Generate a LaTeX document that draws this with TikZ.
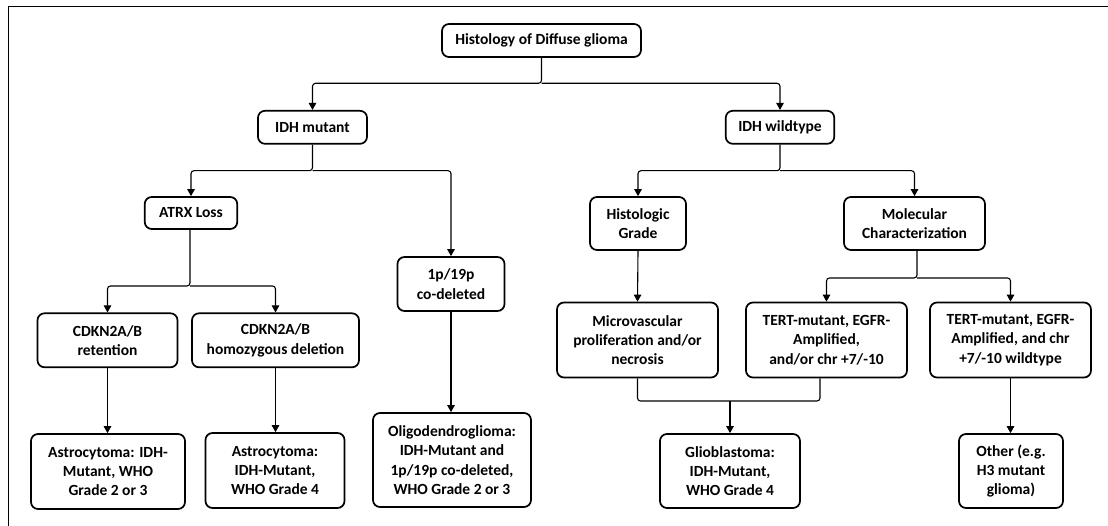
\documentclass[tikz,border=0pt]{standalone}
\usepackage{fontspec}
\setmainfont{Carlito}
\usetikzlibrary{arrows.meta}
\begin{document}
\begin{tikzpicture}[x=1pt,y=-1pt,
  box/.style={draw=black, line width=1.7pt, rounded corners=7pt, align=center, inner sep=0pt,
    font=\fontsize{15.5}{19.3}\selectfont\bfseries, fill=white},
  conn/.style={draw=black, line width=1.1pt, rounded corners=3pt},
  arr/.style={conn, -{Triangle[length=7pt,width=7.5pt]}}]
\useasboundingbox (0,0) rectangle (1108,526);
% frame (top and left edges only)
\draw[line width=1.6pt] (8.5,527) -- (8.5,6.5) -- (1109,6.5);

\node[box, minimum width=199pt, minimum height=33pt] (hist) at (541.5,40.5) {Histology of Diffuse glioma};
\node[box, minimum width=109pt, minimum height=33pt] (idhm) at (312.5,127.3) {IDH mutant};
\node[box, minimum width=108.5pt, minimum height=33pt] (idhw) at (780,127.3) {IDH wildtype};
\node[box, minimum width=92.5pt, minimum height=32pt] (atrx) at (191,213) {ATRX Loss};
\node[box, minimum width=96pt, minimum height=53pt] (histg) at (638,223.5) {Histologic\\Grade};
\node[box, minimum width=141pt, minimum height=53pt] (molc) at (914.5,223.5) {Molecular\\Characterization};
\node[box, minimum width=140pt, minimum height=54pt] (cdknr) at (107.5,340.3) {CDKN2A/B\\retention};
\node[box, minimum width=167pt, minimum height=54pt] (cdknh) at (275.5,340.3) {CDKN2A/B\\homozygous deletion};
\node[box, minimum width=107pt, minimum height=54pt] (codel) at (451,284) {1p/19p\\co-deleted};
\node[box, minimum width=161pt, minimum height=75pt] (micro) at (637.5,340) {Microvascular\\proliferation and/or\\necrosis};
\node[box, minimum width=161pt, minimum height=75pt] (tert1) at (826.5,340) {TERT-mutant, EGFR-\\Amplified,\\and/or chr +7/-10};
\node[box, minimum width=161pt, minimum height=75pt] (tert2) at (1010.5,340) {TERT-mutant, EGFR-\\Amplified, and chr\\+7/-10 wildtype};
\node[box, minimum width=154pt, minimum height=75pt] (astro1) at (108,471.5) {Astrocytoma: IDH-\\Mutant, WHO\\Grade 2 or 3};
\node[box, minimum width=139pt, minimum height=75pt] (astro2) at (275,470.5) {Astrocytoma:\\IDH-Mutant,\\WHO Grade 4};
\node[box, minimum width=158pt, minimum height=94pt] (oligo) at (452,460) {Oligodendroglioma:\\IDH-Mutant and\\1p/19p co-deleted,\\WHO Grade 2 or 3};
\node[box, minimum width=140pt, minimum height=74pt] (glio) at (730,471) {Glioblastoma:\\IDH-Mutant,\\WHO Grade 4};
\node[box, minimum width=104pt, minimum height=74pt] (other) at (1011,471) {Other (e.g.\\H3 mutant\\glioma)};

% connectors
\coordinate (j0) at (541.5,83.3);
\draw[arr] (hist.south) -- (j0) -| (idhm.north);
\draw[arr] (j0) -| (idhw.north);

\coordinate (j1) at (312.5,170.7);
\draw[arr] (idhm.south) -- (j1) -| (atrx.north);
\draw[arr] (j1) -| (codel.north);

\coordinate (j2) at (780,170.7);
\draw[arr] (idhw.south) -- (j2) -| (histg.north);
\draw[arr] (j2) -| (molc.north);

\coordinate (j3) at (190,286);
\draw[arr] (atrx.south -| j3) -- (j3) -| (cdknr.north);
\draw[arr] (j3) -| (cdknh.north);

\coordinate (j4) at (917,278);
\draw[arr] (molc.south -| j4) -- (j4) -| (tert1.north);
\draw[arr] (j4) -| (tert2.north);

\draw[arr] (histg.south) -- (micro.north);
\draw[arr] (cdknr.south) -- (cdknr.south |- astro1.north);
\draw[arr] (cdknh.south) -- (cdknh.south |- astro2.north);
\draw[arr] (codel.south) -- (codel.south |- oligo.north);
\draw[arr] (tert2.south) -- (tert2.south |- other.north);

\coordinate (j5) at (730,401);
\draw[conn] (micro.south) |- (j5) -| ([xshift=-6.5pt]tert1.south);
\draw[arr] (j5) -- (glio.north);
\end{tikzpicture}
\end{document}
